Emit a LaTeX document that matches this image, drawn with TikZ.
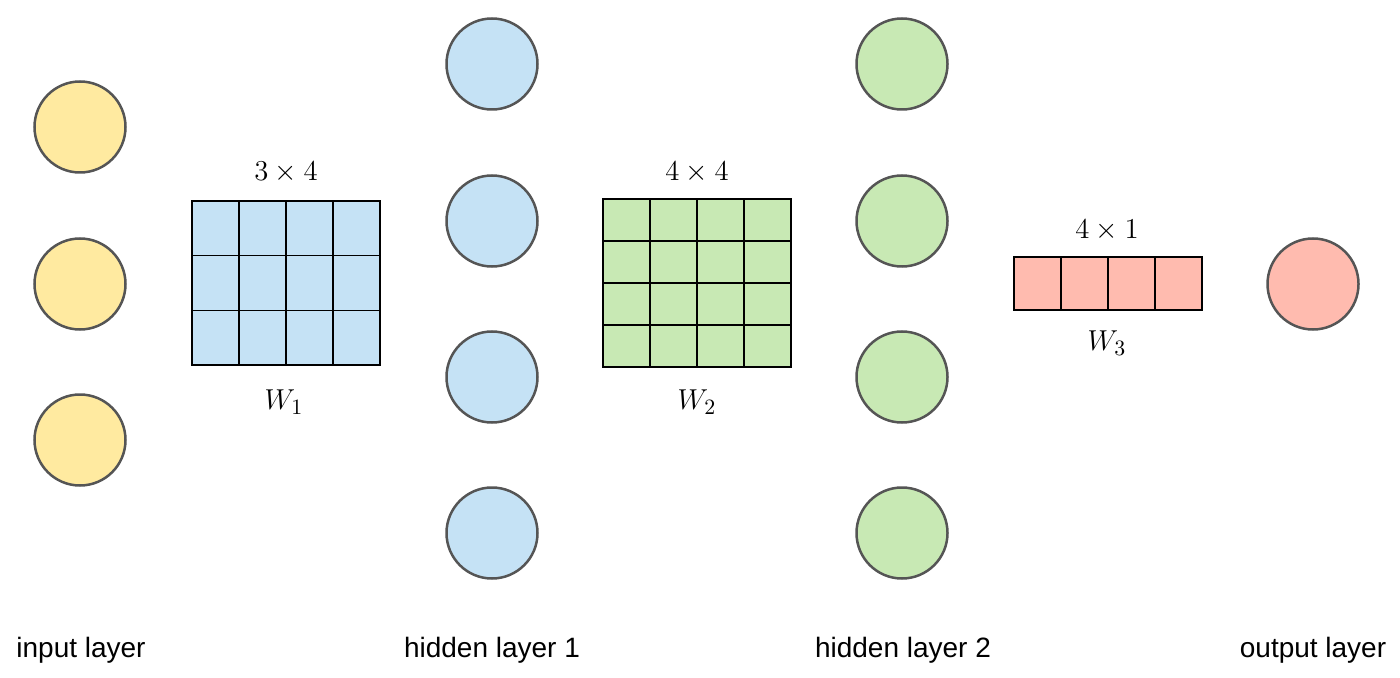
\documentclass[tikz,border=0pt]{standalone}
\usepackage{fontspec}
\setsansfont{Liberation Sans}
\definecolor{NNInput}{RGB}{255,234,160}
\definecolor{NNHidA}{RGB}{197,226,245}
\definecolor{NNHidB}{RGB}{200,233,180}
\definecolor{NNOut}{RGB}{255,187,175}
\definecolor{NNRim}{RGB}{85,85,85}

\begin{document}
\begin{tikzpicture}[x=0.5pt,y=-0.5pt,
  neuron/.style={circle,draw=NNRim,line width=1.25pt,minimum size=45.5pt,inner sep=0pt},
  cell/.style={draw=black,line width=0.8pt},
  dimlabel/.style={font=\fontsize{15}{18}\selectfont},
  layerlabel/.style={font=\sffamily\fontsize{14}{16}\selectfont}]
  \useasboundingbox (0,0) rectangle (1400,678);

  % neurons
  \foreach \n/\y in {1/127,2/284,3/440}
    \node[neuron,fill=NNInput] (in\n) at (80,\y) {};
  \foreach \n/\y in {1/64,2/221,3/377,4/533} {
    \node[neuron,fill=NNHidA] (ha\n) at (492,\y) {};
    \node[neuron,fill=NNHidB] (hb\n) at (902,\y) {};
  }
  \node[neuron,fill=NNOut] (out) at (1313,284) {};

  % weight matrices
  \foreach \i in {0,...,3} {
    \foreach \j in {0,...,2}
      \draw[cell,fill=NNHidA] (192+47*\i,201+54.67*\j) rectangle ++(47,54.67);
    \foreach \j in {0,...,3}
      \draw[cell,fill=NNHidB] (603+47*\i,199+42*\j) rectangle ++(47,42);
    \draw[cell,fill=NNOut] (1014+47*\i,257) rectangle ++(47,53);
  }

  \node[dimlabel] (dimA) at (286,172) {$3\times4$};
  \node[dimlabel] (wA) at (284,402) {$W_1$};
  \node[dimlabel] (dimB) at (697,172) {$4\times4$};
  \node[dimlabel] (wB) at (697,402) {$W_2$};
  \node[dimlabel] (dimC) at (1107,230) {$4\times1$};
  \node[dimlabel] (wC) at (1107,343) {$W_3$};

  % layer names
  \node[layerlabel] (lin) at (81,650) {input layer};
  \node[layerlabel] (lha) at (492,650) {hidden layer 1};
  \node[layerlabel] (lhb) at (903,650) {hidden layer 2};
  \node[layerlabel] (lout) at (1313,650) {output layer};
\end{tikzpicture}
\end{document}
